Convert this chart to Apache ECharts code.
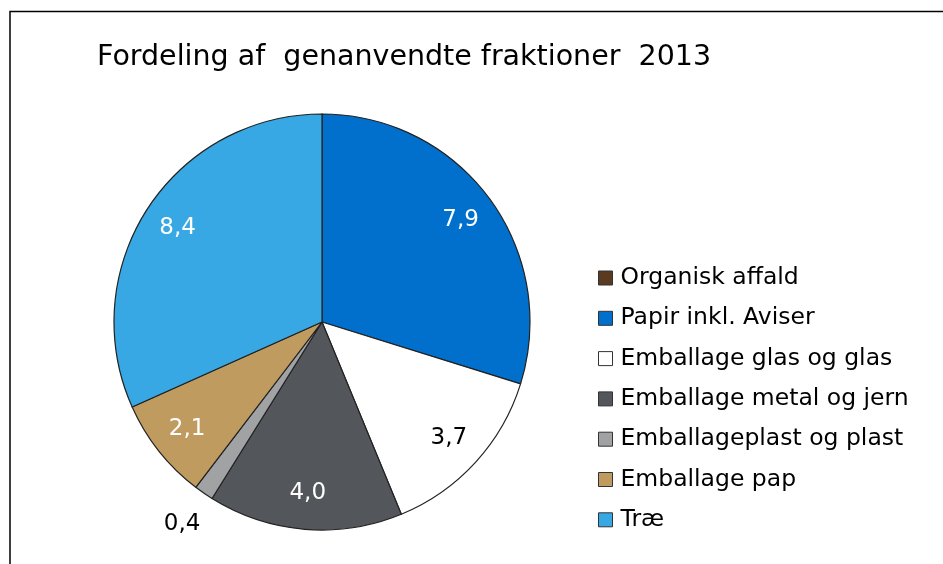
<!DOCTYPE html>
<html>
<head>
<meta charset="utf-8">
<script src="https://cdn.jsdelivr.net/npm/echarts@6/dist/echarts.min.js"></script>
<style>
  html, body { margin: 0; padding: 0; background: #fff; }
  #chart { width: 943px; height: 564px; }
</style>
</head>
<body>
<div id="chart"></div>
<script>
const categories = [
  'Organisk affald',
  'Papir inkl. Aviser',
  'Emballage glas og glas',
  'Emballage metal og jern',
  'Emballageplast og plast',
  'Emballage pap',
  'Træ',
]
const values = [0, 7.9, 3.7, 4.0, 0.4, 2.1, 8.4]
const colors = ['#5b3a22', '#0070cc', '#ffffff', '#53565a', '#a0a2a4', '#bf9b5f', '#38a8e4']
const labelColors = ['#fff', '#fff', '#000', '#fff', '#000', '#fff', '#fff']
// small slices get their value label outside the pie
const outsideLabel = [false, false, false, false, true, false, false]

const FONT = 'DejaVu Sans'
const fmt = (v) => v.toFixed(1).replace('.', ',')

const chart = echarts.init(document.getElementById('chart'))

const pieData = categories.map((name, i) => ({
  name,
  value: values[i],
  itemStyle: { color: colors[i] },
}))

const labelRing = (radius, pick) => ({
  type: 'pie',
  center: [322, 322],
  radius,
  silent: true,
  animation: false,
  itemStyle: { color: 'transparent', borderWidth: 0 },
  labelLine: { show: false },
  data: categories.map((name, i) => ({
    name,
    value: values[i],
    label: {
      show: values[i] > 0 && pick(i),
      position: 'inside',
      color: labelColors[i],
      fontFamily: FONT,
      fontSize: 23,
      formatter: () => fmt(values[i]),
    },
  })),
})

chart.setOption({
  animation: false,
  title: {
    text: 'Fordeling af  genanvendte fraktioner  2013',
    left: 92,
    top: 38,
    textStyle: { fontFamily: FONT, fontSize: 28.5, fontWeight: 'normal', color: '#000' },
  },
  legend: {
    orient: 'vertical',
    left: 593,
    top: 261,
    height: 400,
    itemWidth: 14,
    itemHeight: 14,
    itemGap: 16.3,
    icon: 'rect',
    selectedMode: false,
    itemStyle: { borderColor: '#333', borderWidth: 1 },
    textStyle: { fontFamily: FONT, fontSize: 23.5, color: '#000', padding: [0, 0, 0, 3] },
    data: categories,
  },
  graphic: [{
    type: 'rect',
    shape: { x: 10, y: 11.5, width: 1000, height: 1000 },
    style: { fill: 'none', stroke: '#000', lineWidth: 1.5 },
    silent: true,
  }],
  series: [
    {
      type: 'pie',
      center: [322, 322],
      radius: [0, 208],
      startAngle: 90,
      clockwise: true,
      avoidLabelOverlap: false,
      itemStyle: { borderColor: '#222', borderWidth: 1.2 },
      label: { show: false },
      labelLine: { show: false },
      emphasis: { disabled: true },
      data: pieData,
    },
    labelRing([130, 208], (i) => !outsideLabel[i]),
    labelRing([208, 278], (i) => outsideLabel[i]),
  ],
})
</script>
</body>
</html>
